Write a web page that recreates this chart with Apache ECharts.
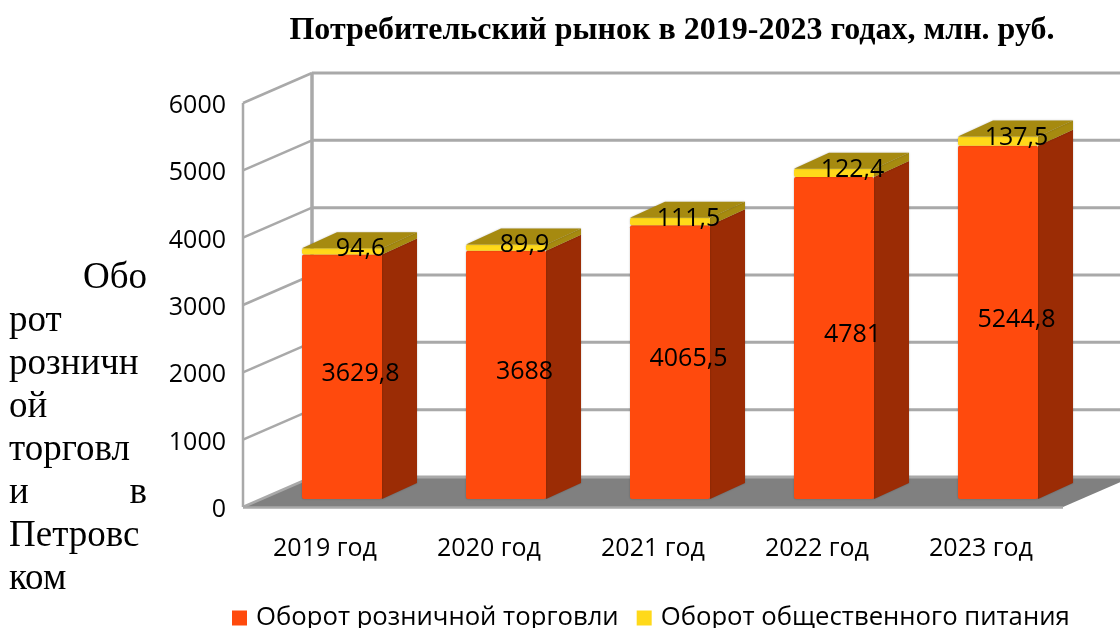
<!DOCTYPE html>
<html>
<head>
<meta charset="utf-8">
<style>
  html, body { margin: 0; padding: 0; background: #fff; }
  #chart { width: 1120px; height: 628px; }
</style>
</head>
<body>
<div id="chart"></div>
<script src="https://cdn.jsdelivr.net/npm/echarts@6/dist/echarts.min.js"></script>
<script>
  const categories = ['2019 год', '2020 год', '2021 год', '2022 год', '2023 год']
  const retail = [3629.8, 3688, 4065.5, 4781, 5244.8]
  const catering = [94.6, 89.9, 111.5, 122.4, 137.5]
  const yTicks = [0, 1000, 2000, 3000, 4000, 5000, 6000]
  const titleText = 'Потребительский рынок в 2019-2023 годах, млн. руб.'
  const retailName = 'Оборот розничной торговли'
  const cateringName = 'Оборот общественного питания'
  // justified text of the original axis title, line by line
  const axisTitleLines = ['Обо', 'рот', 'розничн', 'ой', 'торговл', 'и в', 'Петровс', 'ком']

  const font = '"Open Sans", sans-serif'
  const wallDepth = [69, -30]
  const barShift = [17, -8]
  const barDepth = [35, -16]
  const barWidth = 80
  const gridColor = '#a9a9a9'

  function poly(points, fill, z2) {
    return { type: 'polygon', z2: z2 || 0, shape: { points: points }, style: { fill: fill } }
  }

  function renderWalls(params, api) {
    const sys = params.coordSys
    const left = sys.x
    const right = sys.x + sys.width
    const y = api.coord([0, api.value(0)])[1]
    const dx = wallDepth[0]
    const dy = wallDepth[1]
    const line = (x1, y1, x2, y2, w) => ({
      type: 'line',
      shape: { x1: x1, y1: y1, x2: x2, y2: y2 },
      style: { stroke: gridColor, lineWidth: w || 2 }
    })
    const children = [
      line(left, y, left + dx, y + dy, 2.5),
      line(left + dx, y + dy, right + dx, y + dy, 3)
    ]
    if (api.value(0) === 0) {
      children.unshift(poly([[left, y], [left + dx, y + dy], [right + dx, y + dy], [right, y]], '#808080'))
      children.push(line(left, y + 0.5, right, y + 0.5, 2.5))
      children.push(line(left, y, left, sys.y, 2.5))
      children.push(line(left + dx, y + dy, left + dx, sys.y + dy, 3.5))
    }
    return { type: 'group', children: children }
  }

  function fmt(v) {
    return String(v).replace('.', ',')
  }

  function makeRenderBar(front, side, top) {
    return function (params, api) {
      const i = api.value(0)
      const lo = api.coord([i, api.value(1)])
      const hi = api.coord([i, api.value(2)])
      const x0 = lo[0] - barWidth / 2 + barShift[0]
      const x1 = x0 + barWidth
      const y0 = lo[1] + barShift[1]
      const y1 = hi[1] + barShift[1]
      const dx = barDepth[0]
      const dy = barDepth[1]
      const glow = { shadowBlur: 2, shadowColor: 'rgba(0,0,0,0.25)' }
      const children = [
        {
          type: 'polygon',
          shape: { points: [[x1, y0], [x1 + dx, y0 + dy], [x1 + dx, y1 + dy], [x1, y1]] },
          style: Object.assign({ fill: side }, glow)
        },
        {
          type: 'rect',
          shape: { x: x0, y: y1, width: barWidth, height: y0 - y1, r: 2 },
          style: Object.assign({ fill: front }, glow)
        }
      ]
      if (top) {
        children.push({
          type: 'polygon',
          shape: { points: [[x0, y1], [x0 + dx, y1 + dy], [x1 + dx, y1 + dy], [x1, y1]] },
          style: Object.assign({ fill: top }, glow)
        })
      }
      return { type: 'group', children: children }
    }
  }

  // value labels sit in their own series so no later bar covers them
  function renderLabel(params, api) {
    const i = api.value(0)
    const lo = api.coord([i, api.value(1)])
    const hi = api.coord([i, api.value(2)])
    return {
      type: 'text',
      z2: 10,
      style: {
        x: lo[0] + barShift[0] + barDepth[0] / 2 + 1,
        y: (lo[1] + hi[1]) / 2 + barShift[1] + barDepth[1] / 2 + 5,
        text: fmt(api.value(3)),
        align: 'center',
        verticalAlign: 'middle',
        fill: '#000',
        font: '25px ' + font
      }
    }
  }

  const retailData = categories.map((c, i) => [i, 0, retail[i], retail[i]])
  const cateringData = categories.map((c, i) => [i, retail[i], retail[i] + catering[i], catering[i]])

  const axisTitleX = 9
  const axisTitleRight = 147
  const axisTitleTop = 278
  const axisTitleStep = 43
  const axisTitleFont = '37px "Liberation Serif", serif'
  const axisTitleText = []
  axisTitleLines.forEach((s, i) => {
    const y = axisTitleTop + i * axisTitleStep
    const parts = s.split(' ')
    const add = (text, x, align) => axisTitleText.push({
      type: 'text', x: x, y: y,
      style: { text: text, textAlign: align, textVerticalAlign: 'middle', fill: '#000', font: axisTitleFont }
    })
    if (i === 0) {
      add(s, axisTitleRight, 'right')
    } else if (parts.length === 2) {
      add(parts[0], axisTitleX, 'left')
      add(parts[1], axisTitleRight, 'right')
    } else {
      add(s, axisTitleX, 'left')
    }
  })

  const chart = echarts.init(document.getElementById('chart'), null, { renderer: 'canvas' })
  chart.setOption({
    animation: false,
    backgroundColor: '#fff',
    title: {
      text: titleText,
      left: 667,
      top: 10,
      textAlign: 'center',
      textStyle: { fontFamily: '"Liberation Serif", serif', fontWeight: 'bold', fontSize: 32, color: '#000' }
    },
    legend: {
      data: [retailName, cateringName],
      left: 227,
      top: 600,
      icon: 'rect',
      itemWidth: 15,
      itemHeight: 15,
      itemGap: 18,
      textStyle: { fontFamily: font, fontSize: 25.7, color: '#000', padding: [0, 0, 0, 4] }
    },
    grid: { left: 243, right: 57, top: 103, bottom: 121 },
    xAxis: {
      type: 'category',
      data: categories,
      axisLine: { show: false },
      axisTick: { show: false },
      axisLabel: { margin: 29, fontFamily: font, fontSize: 25, color: '#000' }
    },
    yAxis: {
      type: 'value',
      min: 0,
      max: 6000,
      interval: 1000,
      axisLine: { show: false },
      axisTick: { show: false },
      splitLine: { show: false },
      axisLabel: {
        margin: 17,
        color: '#000',
        formatter: v => '{t|' + v + '}',
        rich: {
          t: { fontFamily: font, fontSize: 25, color: '#000', padding: [6, 0, 0, 0] }
        }
      }
    },
    graphic: axisTitleText,
    series: [
      {
        type: 'custom',
        silent: true,
        z: 1,
        renderItem: renderWalls,
        encode: { y: 0 },
        data: yTicks.map(v => [v])
      },
      {
        name: retailName,
        type: 'custom',
        z: 2,
        itemStyle: { color: '#ff4a0d' },
        renderItem: makeRenderBar('#ff4a0d', '#9b2c05', null),
        encode: { x: 0, y: 2 },
        data: retailData
      },
      {
        name: cateringName,
        type: 'custom',
        z: 3,
        itemStyle: { color: '#ffd91a' },
        renderItem: makeRenderBar('#ffd91a', '#a68a10', '#a68a10'),
        encode: { x: 0, y: 2 },
        data: cateringData
      },
      {
        type: 'custom',
        silent: true,
        z: 4,
        renderItem: renderLabel,
        encode: { x: 0, y: 2 },
        data: retailData.concat(cateringData)
      }
    ]
  })
</script>
</body>
</html>
